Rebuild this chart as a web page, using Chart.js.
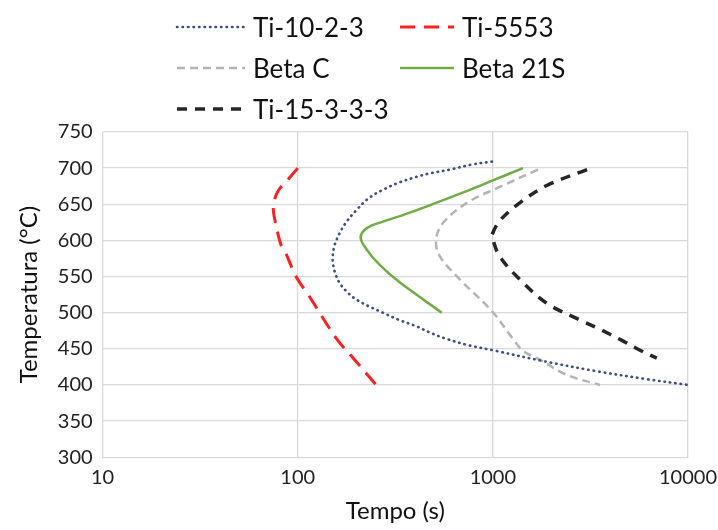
<!DOCTYPE html>
<html>
<head>
<meta charset="utf-8">
<script src="https://cdn.jsdelivr.net/npm/chart.js@4.4.1/dist/chart.umd.min.js"></script>
<style>
  html, body { margin: 0; padding: 0; background: #fff; }
  #wrap { position: relative; width: 718px; height: 530px; }
  #chart { position: absolute; left: 0; top: 0; }
  #legend {
    position: absolute; left: 175px; top: 9px;
    display: grid; grid-template-columns: 223px 230px; row-gap: 5px;
    font-family: Lato, sans-serif; font-size: 26px; color: #111;
  }
  .item { display: flex; align-items: center; height: 36px; white-space: nowrap; }
  .item svg { margin-right: 6px; }
</style>
</head>
<body>
<div id="wrap">
  <canvas id="chart" width="718" height="530"></canvas>
  <div id="legend"></div>
</div>
<script>
// Curvas TTT (tempo em s, temperatura em °C)
const seriesNames = ['Ti-10-2-3', 'Ti-5553', 'Beta C', 'Beta 21S', 'Ti-15-3-3-3'];

const ti1023Time = [990, 780, 603, 480, 407, 330, 273, 230, 200, 178, 164, 154, 151, 155, 164, 180, 200, 235, 273, 330, 407, 480, 574, 750, 1000, 1812, 3400, 6140, 10000];
const ti1023Temp = [709, 705, 698, 693, 688, 680, 670, 658, 642, 626, 610, 592, 573, 556, 541, 528, 518, 508, 500, 490, 481, 472, 464, 455, 448, 433, 419, 408, 400];

const ti5553Time = [100, 87, 80, 76, 75, 77, 82, 87, 98, 115, 135, 160, 194, 252];
const ti5553Temp = [700, 681, 670, 656, 642, 624, 594, 582, 550, 522, 492, 462, 436, 400];

const betaCTime = [1702, 1086, 736, 555, 511, 535, 677, 990, 1272, 1430, 1742, 2386, 3540];
const betaCTemp = [698, 674, 652, 624, 601, 578, 546, 502, 463, 447, 435, 414, 400];

const beta21sTime = [1426, 1000, 762, 459, 354, 273, 226, 210, 226, 263, 333, 547];
const beta21sTemp = [700, 683, 670, 647, 636, 626, 617, 604, 587, 566, 542, 500];

const ti15333Time = [3040, 1888, 1374, 1083, 992, 1000, 1083, 1374, 1888, 2790, 3540, 4480, 5680, 6920];
const ti15333Temp = [698, 676, 652, 627, 608, 601, 578, 546, 513, 490, 477, 463, 448, 437];

const xTicks = [10, 100, 1000, 10000];

const styles = [
  { color: '#3F4F7F', dash: [0.5, 5], width: 2.6, cap: 'round' },
  { color: '#FF2020', dash: [15, 9], width: 3, cap: 'butt' },
  { color: '#B4B4B4', dash: [8, 5], width: 2.5, cap: 'butt' },
  { color: '#70AD47', dash: [], width: 2.5, cap: 'butt' },
  { color: '#262626', dash: [10, 8], width: 3.5, cap: 'butt' }
];

const times = [ti1023Time, ti5553Time, betaCTime, beta21sTime, ti15333Time];
const temps = [ti1023Temp, ti5553Temp, betaCTemp, beta21sTemp, ti15333Temp];

const datasets = seriesNames.map((name, i) => ({
  label: name,
  data: times[i].map((t, k) => ({ x: t, y: temps[i][k] })),
  showLine: true,
  borderColor: styles[i].color,
  borderDash: styles[i].dash,
  borderWidth: styles[i].width,
  borderCapStyle: styles[i].cap,
  pointRadius: 0,
  tension: 0.35,
  fill: false
}));

// legenda em HTML, duas colunas
const legendEl = document.getElementById('legend');
seriesNames.forEach((name, i) => {
  const s = styles[i];
  const div = document.createElement('div');
  div.className = 'item';
  const w = i % 2 === 0 ? 72 : 58;
  div.innerHTML =
    `<svg width="${w}" height="10"><line x1="2" y1="5" x2="${w - 2}" y2="5" stroke="${s.color}" ` +
    `stroke-width="${s.width}" stroke-linecap="${s.cap}" stroke-dasharray="${s.dash.join(' ')}"/></svg>` +
    `<span>${name}</span>`;
  legendEl.appendChild(div);
});

const font = { family: 'Lato, sans-serif' };

new Chart(document.getElementById('chart').getContext('2d'), {
  type: 'scatter',
  data: { datasets },
  options: {
    responsive: false,
    animation: false,
    layout: { padding: { top: 132, right: 0, left: 11, bottom: 0 } },
    plugins: { legend: { display: false }, tooltip: { enabled: false } },
    scales: {
      x: {
        type: 'logarithmic',
        min: 10,
        max: 10000,
        afterBuildTicks: (axis) => { axis.ticks = xTicks.map(v => ({ value: v })); },
        // o rótulo "10000" pode encostar na borda direita
        afterFit: (axis) => { axis.paddingRight = 30; },
        ticks: {
          color: '#222',
          font: { ...font, size: 20 },
          padding: 8,
          maxRotation: 0,
          autoSkip: false,
          callback: (v) => String(v)
        },
        grid: { color: '#D9D9D9', lineWidth: 1.3, drawTicks: false },
        border: { color: '#D9D9D9' },
        title: { display: true, text: 'Tempo (s)', color: '#111', font: { ...font, size: 24 }, padding: { top: 0 } }
      },
      y: {
        min: 300,
        max: 750,
        ticks: { stepSize: 50, color: '#222', font: { ...font, size: 20 }, padding: 10 },
        grid: { color: '#D9D9D9', lineWidth: 1.3, drawTicks: false },
        border: { color: '#D9D9D9' },
        title: { display: true, text: 'Temperatura (°C)', color: '#111', font: { ...font, size: 24 }, padding: { bottom: 4 } }
      }
    }
  }
});
</script>
</body>
</html>
